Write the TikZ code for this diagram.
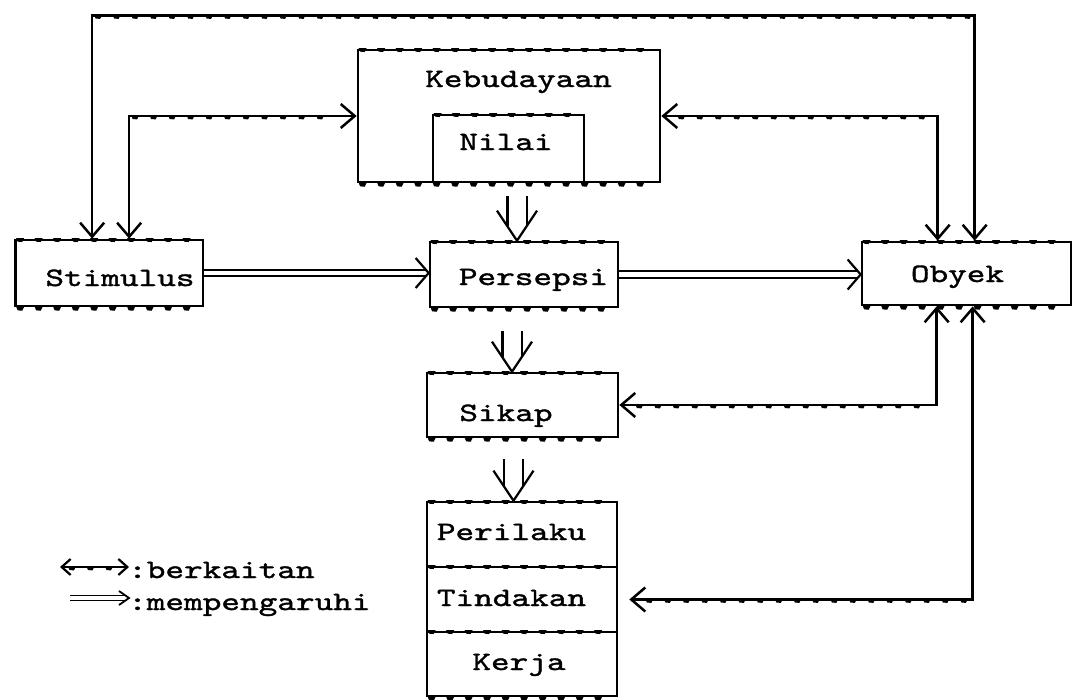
\documentclass[tikz,border=0pt]{standalone}
\usepackage{fontspec}
\newfontfamily\typewriter{lmmono10-regular.otf}[FakeStretch=1.34,FakeBold=1.4]
\usetikzlibrary{arrows.meta,calc,decorations.markings}

\tikzset{
  box/.style={draw, line width=2.7pt, rectangle, inner sep=0pt},
  lbl/.style={font=\typewriter\fontsize{26.5}{30}\selectfont, inner sep=0pt, anchor=base},
  legendlbl/.style={lbl, anchor=base west},
  rel/.style={draw, line width=2.5pt,
    {Straight Barb[length=14pt,width=24pt]}-{Straight Barb[length=14pt,width=24pt]}},
  smallrel/.style={draw, line width=2.2pt,
    {Straight Barb[length=9pt,width=16pt]}-{Straight Barb[length=9pt,width=16pt]}},
  shaft/.style={draw, double, double distance=4.6pt, line width=1.8pt, shorten >=3pt},
  wideshaft/.style={draw, double, double distance=17pt, line width=2.4pt, shorten >=14.7pt},
  thinshaft/.style={draw, double, double distance=3.4pt, line width=1.6pt, shorten >=2pt},
  vhead/.style={draw, line width=2.2pt, line join=miter},
  ticks/.style={postaction={decorate}, decoration={markings,
    mark=between positions 7pt and -6pt step 18.5pt with
      {\fill (-5pt,0.6pt) -- (3pt,0.6pt) -- (1pt,-3.4pt) -- (-3.5pt,-3pt) -- cycle;}}},
}

\begin{document}
\begin{tikzpicture}[x=1pt,y=-1pt]
\useasboundingbox (0,0) rectangle (1073,699);

% boxes
\node[box, minimum width=302pt, minimum height=132pt] (keb) at (509,116) {};
\node[box, minimum width=151pt, minimum height=67pt] (nilai) at (508.5,148.5) {};
\node[box, minimum width=187.5pt, minimum height=66pt] (stim) at (109.25,273) {};
\node[box, minimum width=188pt, minimum height=65pt] (pers) at (524,274.5) {};
\node[box, minimum width=209pt, minimum height=63pt] (obj) at (966.5,273.5) {};
\node[box, minimum width=191pt, minimum height=64pt] (sikap) at (522.5,405) {};
\node[box, minimum width=190pt, minimum height=65pt] (peril) at (522,534.5) {};
\node[box, minimum width=190pt, minimum height=65pt] (tind) at (522,599.5) {};
\node[box, minimum width=190pt, minimum height=64pt] (kerja) at (522,664) {};

% labels
\node[lbl] (kebt) at (518.5,87) {Kebudayaan};
\node[lbl] (nilait) at (506,150) {Nilai};
\node[lbl] (stimt) at (120,286) {Stimulus};
\node[lbl] (perst) at (533.5,285) {Persepsi};
\node[lbl] (objt) at (957.5,282) {Obyek};
\node[lbl] (sikapt) at (506,421) {Sikap};
\node[lbl] (perilt) at (511.5,540) {Perilaku};
\node[lbl] (tindt) at (511.5,606) {Tindakan};
\node[lbl] (kerjat) at (519,670) {Kerja};

% textured horizontal edges
\path[ticks] (keb.north west) -- (keb.north east);
\path[ticks] (keb.south west) -- (keb.south east);
\path[ticks] (nilai.north west) -- (nilai.north east);
\foreach \n in {stim,pers,obj,sikap} {
  \path[ticks] (\n.north west) -- (\n.north east);
  \path[ticks] (\n.south west) -- (\n.south east);
}
\foreach \n in {peril,tind,kerja} {
  \path[ticks] (\n.north west) -- (\n.north east);
}
\path[ticks] (kerja.south west) -- (kerja.south east);

% connection points
\coordinate (rail) at (500,15.5);
\coordinate (sA) at ([xshift=78pt]stim.north west);
\coordinate (sB) at ([xshift=115pt]stim.north west);
\coordinate (oA) at ([xshift=77pt]obj.north west);
\coordinate (oB) at ([xshift=114pt]obj.north west);
\coordinate (oC) at ([xshift=76pt]obj.south west);
\coordinate (oD) at ([xshift=112pt]obj.south west);
\coordinate (tE) at ([xshift=11pt]tind.east);

% two-way relations
\draw[rel] (sA) |- (rail) -| (oB);
\draw[rel] (sB) |- (keb.west);
\draw[rel] (keb.east) -| (oA);
\draw[rel] (sikap.east) -| (oC);
\draw[rel] (tE) -| (oD);

\path[ticks] (sA |- rail) -- (oB |- rail);
\path[ticks] (sB |- keb.west) -- ([xshift=-14pt]keb.west);
\path[ticks] ([xshift=14pt]keb.east) -- (oA |- keb.east);
\path[ticks] ([xshift=14pt]sikap.east) -- (oC |- sikap.east);
\path[ticks] ([xshift=14pt]tE) -- (oD |- tE);

% influences: horizontal
\coordinate (hp) at (stim.east -| pers.west);
\draw[shaft] (stim.east) -- (hp);
\draw[vhead] ($(hp)+(-13,-15)$) -- (hp) -- ($(hp)+(-13,15)$);
\coordinate (ho) at (pers.east -| obj.west);
\draw[shaft] (pers.east) -- (ho);
\draw[vhead] ($(ho)+(-13,-15)$) -- (ho) -- ($(ho)+(-13,15)$);

% influences: downward
\coordinate (d1) at ([xshift=8pt,yshift=-13pt]keb.south);
\coordinate (e1) at (d1 |- pers.north);
\draw[wideshaft] (d1) -- (e1);
\draw[vhead] ($(e1)+(-20,-30)$) -- (e1) -- ($(e1)+(20,-30)$);

\coordinate (d2) at ([xshift=-12pt,yshift=-23pt]pers.south);
\coordinate (e2) at (d2 |- sikap.north);
\draw[wideshaft] (d2) -- (e2);
\draw[vhead] ($(e2)+(-20,-30)$) -- (e2) -- ($(e2)+(20,-30)$);

\coordinate (d3) at ([xshift=-9pt,yshift=-21pt]sikap.south);
\coordinate (e3) at (d3 |- peril.north);
\draw[wideshaft] (d3) -- (e3);
\draw[vhead] ($(e3)+(-20,-30)$) -- (e3) -- ($(e3)+(20,-30)$);

% legend
\coordinate (lgA) at (60,567);
\coordinate (lgB) at (129,567);
\draw[smallrel] (lgA) -- (lgB);
\path[ticks] ([xshift=6pt]lgA) -- ([xshift=-6pt]lgB);
\node[legendlbl] (relt) at (128,578) {:berkaitan};

\coordinate (lgC) at (70,598);
\coordinate (lgD) at (129,598);
\draw[thinshaft] (lgC) -- (lgD);
\draw[vhead, line width=1.8pt] ($(lgD)+(-10,-7)$) -- (lgD) -- ($(lgD)+(-10,7)$);
\node[legendlbl] (inflt) at (128,610) {:mempengaruhi};
\end{tikzpicture}
\end{document}
